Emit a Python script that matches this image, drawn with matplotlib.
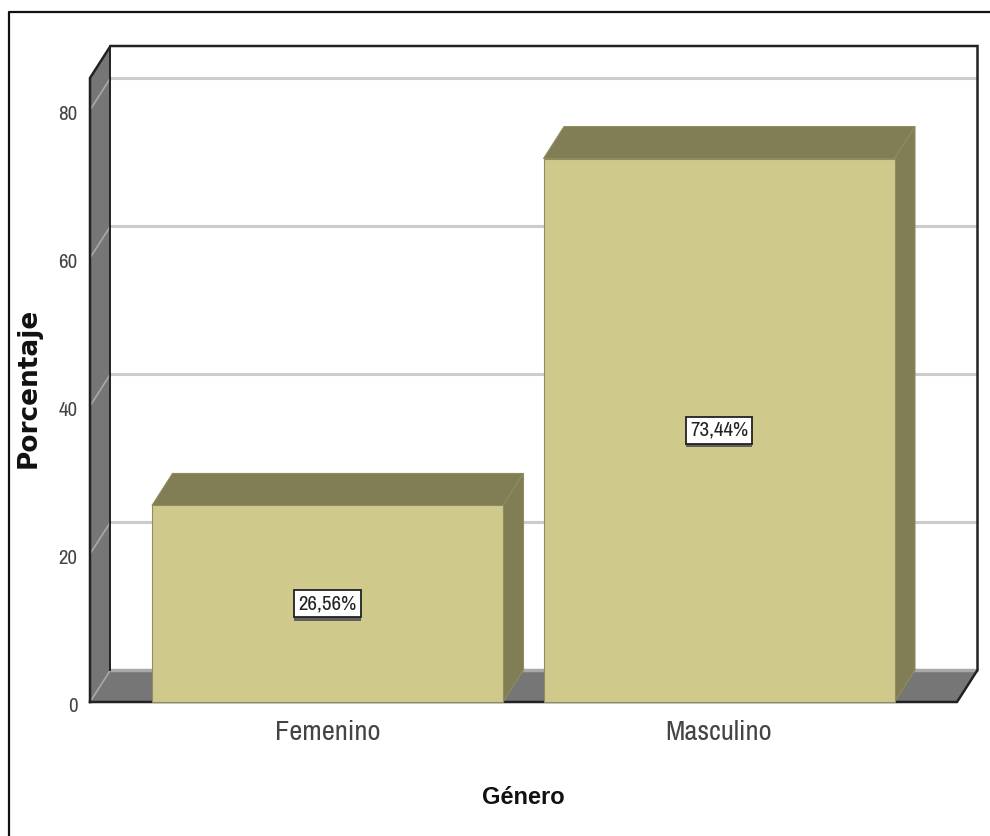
import matplotlib
matplotlib.use("Agg")
import matplotlib.pyplot as plt
import matplotlib.patheffects as pe
from matplotlib.lines import Line2D
from matplotlib.transforms import ScaledTranslation

# Datos
categorias = ["Femenino", "Masculino"]
porcentajes = [26.56, 73.44]
etiquetas = ["26,56%", "73,44%"]
ticks_y = [0, 20, 40, 60, 80]

plt.rcParams["font.family"] = ["Archivo Narrow", "Liberation Sans", "DejaVu Sans"]

W, H = 990, 836
BAR = "#cfca8c"
BAR_DARK = "#817e56"
EDGE = "#8f8c60"
GRIS = "#767676"
REJILLA = "#cccccc"

fig = plt.figure(figsize=(W / 100, H / 100), dpi=100)
# el eje es el plano frontal del cubo
ax = fig.add_axes([90 / W, 1 - 702 / H, 867 / W, 624 / H])
ax.set_xlim((90 - 327.5) / 391.5, (957 - 327.5) / 391.5)
ax.set_ylim(0, 624 / 7.4)
x0, x1 = ax.get_xlim()
y0, y1 = ax.get_ylim()

# profundidad en unidades de datos
dx = 20.5 / 391.5
dy = 32 / 7.4
ancho = 351 / 391.5

# Paredes
ax.fill([x0, x0 + dx, x0 + dx, x0], [y0, y0 + dy, y1 + dy, y1],
        facecolor=GRIS, edgecolor="none", clip_on=False, zorder=1)
ax.fill([x0, x1, x1 + dx, x0 + dx], [y0, y0, y0 + dy, y0 + dy],
        facecolor=GRIS, edgecolor="none", clip_on=False, zorder=1)

# Rejilla
for t in ticks_y[1:]:
    ax.plot([x0 + dx, x1 + dx], [t + dy, t + dy], color=REJILLA, lw=2.2,
            clip_on=False, zorder=2, solid_capstyle="butt")
    ax.plot([x0, x0 + dx], [t, t + dy], color="#a8a8a8", lw=1.2,
            clip_on=False, zorder=2)
ax.plot([x0, x0 + dx], [y0, y0 + dy], color="#a8a8a8", lw=1.2, clip_on=False, zorder=2)
ax.plot([x0 + dx, x1 + dx], [y0 + dy, y0 + dy], color="#a9a9a9", lw=2.5,
        clip_on=False, zorder=2, solid_capstyle="butt")

# Contorno del cubo
ax.plot([x0, x0, x0 + dx, x1 + dx, x1 + dx, x1, x0], [y0, y1, y1 + dy, y1 + dy, y0 + dy, y0, y0],
        color="#222222", lw=1.8, clip_on=False, zorder=2.5, solid_joinstyle="miter")
ax.plot([x0 + dx, x0 + dx], [y1 + dy, y0 + dy], color="#222222", lw=1.4,
        clip_on=False, zorder=2.5)

# Barras
for i, v in enumerate(porcentajes):
    izq, der = i - ancho / 2, i + ancho / 2
    ax.fill([izq, der, der + dx, izq + dx], [v, v, v + dy, v + dy],
            facecolor=BAR_DARK, edgecolor=EDGE, lw=0.8, clip_on=False, zorder=3)
    ax.fill([der, der + dx, der + dx, der], [0, dy, v + dy, v],
            facecolor=BAR_DARK, edgecolor=EDGE, lw=0.8, clip_on=False, zorder=3)
ax.bar(range(len(categorias)), porcentajes, width=ancho, color=BAR, edgecolor=EDGE,
       linewidth=0.8, zorder=4, clip_on=False)

# Etiquetas de valor
for i, (v, e) in enumerate(zip(porcentajes, etiquetas)):
    txt = ax.text(i, v / 2, e, ha="center", va="center", fontsize=15, color="#222222", zorder=6,
                  bbox=dict(boxstyle="square,pad=0.2", facecolor="white", edgecolor="#222222", linewidth=1.3))
    txt.get_bbox_patch().set_path_effects([
        pe.SimplePatchShadow(offset=(0, -2.5), shadow_rgbFace="#555555", alpha=0.9), pe.Normal()])

# Ejes
for s in ax.spines.values():
    s.set_visible(False)
ax.patch.set_visible(False)
ax.set_yticks(ticks_y)
ax.set_yticklabels([str(t) for t in ticks_y], fontsize=15, color="#444444")
ax.tick_params(axis="y", length=0, pad=9)
# los numeros van un poco por debajo de la marca
bajar = ScaledTranslation(0, -3 / 100, fig.dpi_scale_trans)
for lab in ax.get_yticklabels():
    lab.set_transform(lab.get_transform() + bajar)
ax.set_xticks(range(len(categorias)))
ax.set_xticklabels(categorias, fontsize=20.5, color="#444444")
ax.tick_params(axis="x", length=0, pad=13)

fig.text(523 / W, 1 - 797 / H, "Género", ha="center", va="center", fontsize=17, fontweight="bold",
         color="#111111", family=["Liberation Sans", "DejaVu Sans"])
fig.text(29 / W, 1 - 388 / H, "Porcentaje", ha="center", va="center", rotation=90, fontsize=19,
         fontweight="bold", color="#111111", family=["DejaVu Sans"])

# Marco exterior
fig.add_artist(Line2D([9 / W, 9 / W, 1], [0, 1 - 12 / H, 1 - 12 / H], color="#111111", lw=1.6))

fig.savefig("out.png", dpi=100, facecolor="white")
